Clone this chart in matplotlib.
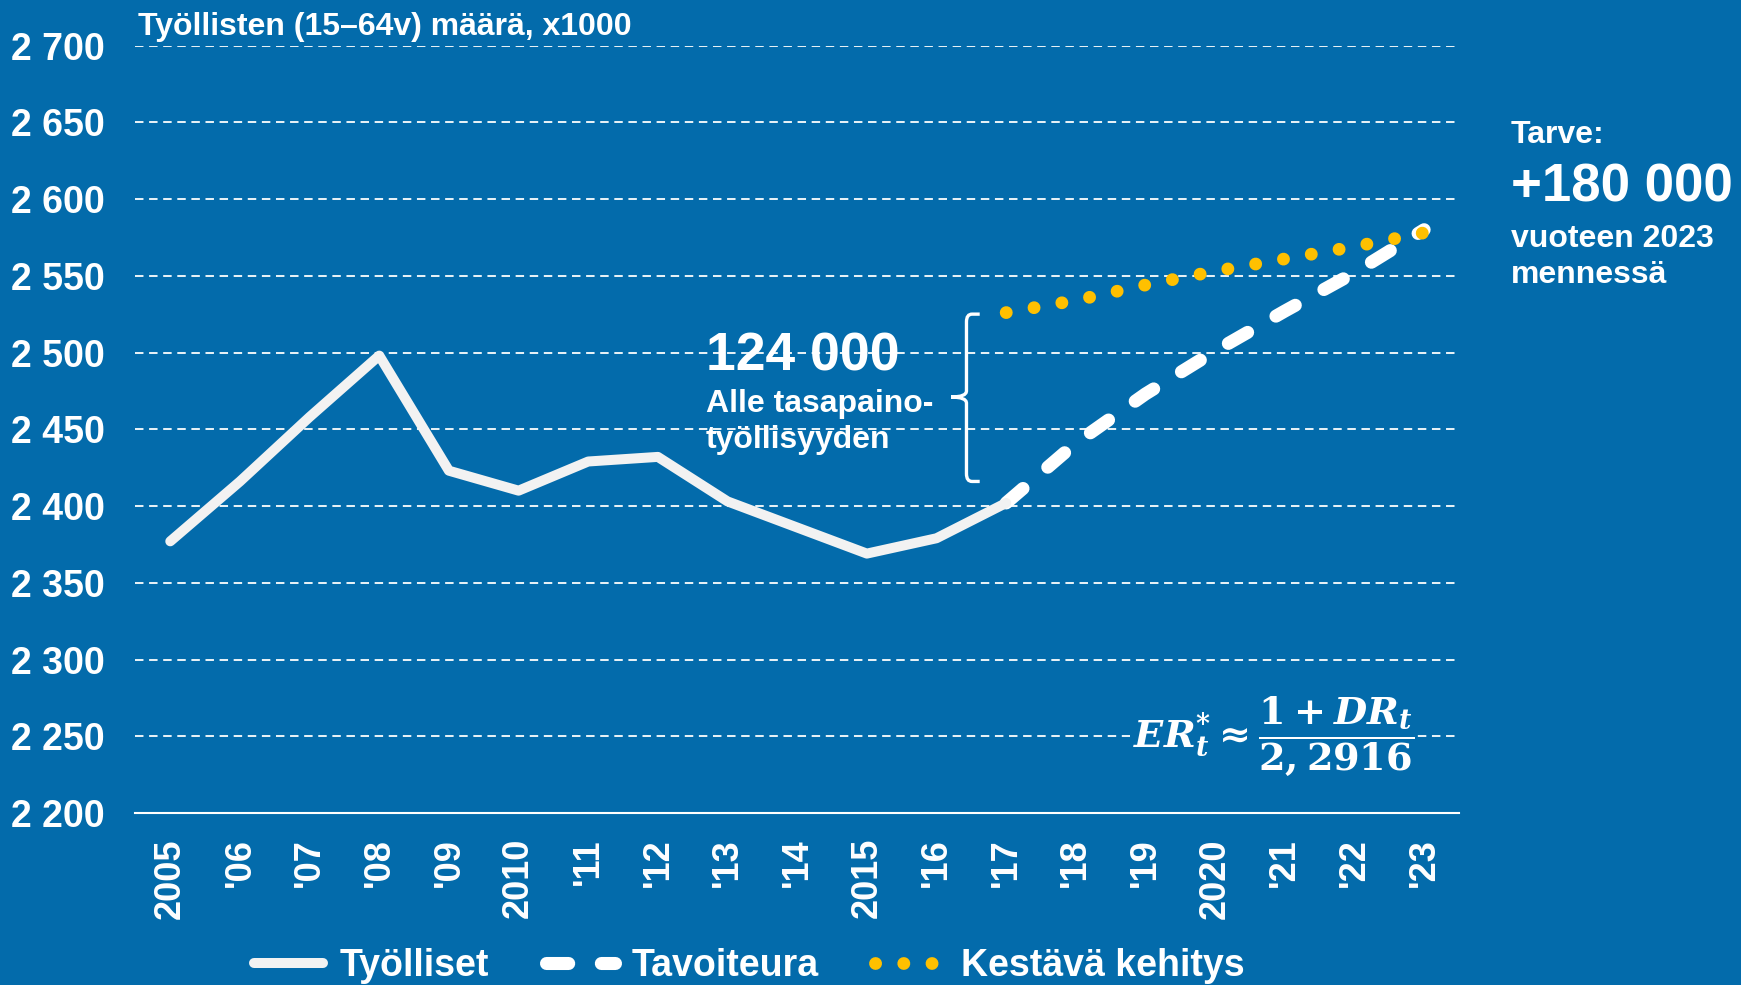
import matplotlib
matplotlib.use('Agg')
import matplotlib.pyplot as plt
from matplotlib.path import Path
from matplotlib.patches import PathPatch

# --- data (x1000 henkeä) ---
vuodet = list(range(2005, 2018))
tyolliset = [2377, 2416, 2458, 2498, 2423, 2410, 2429, 2432, 2403, 2386, 2369, 2379, 2402]

tavoite_vuodet = list(range(2017, 2024))
tavoite = [2402, 2441, 2473, 2501, 2527, 2552, 2580]

kest_vuodet = list(range(2017, 2024))
kestava = [2526, 2534, 2544, 2553, 2561, 2569, 2578]

x_ticks = list(range(2005, 2024))
x_labels = ['2005', "'06", "'07", "'08", "'09", '2010', "'11", "'12", "'13", "'14",
            '2015', "'16", "'17", "'18", "'19", '2020', "'21", "'22", "'23"]
y_ticks = list(range(2200, 2701, 50))

tausta = '#036BAB'
valk = 'white'

plt.rcParams.update({'font.family': ['Liberation Sans', 'DejaVu Sans'],
                     'font.weight': 'bold'})

fig = plt.figure(figsize=(17.41, 9.85), dpi=100, facecolor=tausta)
ax = fig.add_axes([0.0778, 0.1746, 0.7602, 0.7792], facecolor=tausta)

ax.plot(vuodet, tyolliset, color='#F2F2F2', lw=7.2, solid_capstyle='round',
        solid_joinstyle='round', label='Työlliset', zorder=4)
ax.plot(tavoite_vuodet, tavoite, color=valk, lw=9.4, ls=(0, (1.7, 2.5)),
        dash_capstyle='round', label='Tavoiteura', zorder=3)
ax.plot(kest_vuodet, kestava, color='#FFC000', lw=9.2, ls=(0, (0.01, 2.2)),
        dash_capstyle='round', label='Kestävä kehitys', zorder=3)

ax.set_xlim(2004.5, 2023.5)
ax.set_ylim(2200, 2700)
ax.set_axisbelow(True)
ax.yaxis.grid(True, color=valk, alpha=0.9, lw=1.45, ls=(0, (4.2, 2.8)))

for s in ('left', 'top', 'right'):
    ax.spines[s].set_visible(False)
ax.spines['bottom'].set_color(valk)
ax.spines['bottom'].set_linewidth(1.5)

ax.set_xticks(x_ticks)
ax.set_xticklabels(x_labels, rotation=90, fontsize=26, color=valk, fontweight='bold')
ax.set_yticks(y_ticks)
ax.set_yticklabels([f'{v:,}'.replace(',', ' ') for v in y_ticks], fontsize=27,
                   color=valk, fontweight='bold')
ax.tick_params(axis='x', length=0, pad=18)
ax.tick_params(axis='y', length=0, pad=22)

# sulkumerkki
x0, xt, xn = 2016.43, 2016.62, 2016.21
yy, ya, yk = 2525, 2416, 2471
r = 0.08
verts = [(xt, yy), (x0 + r, yy), (x0, yy), (x0, yy - 5),
         (x0, yk + 4), (x0, yk), (xn, yk),
         (xn, yk), (x0, yk), (x0, yk - 4),
         (x0, ya + 5), (x0, ya), (x0 + r, ya), (xt, ya)]
codes = [Path.MOVETO, Path.LINETO, Path.CURVE3, Path.CURVE3,
         Path.LINETO, Path.CURVE3, Path.CURVE3,
         Path.MOVETO, Path.CURVE3, Path.CURVE3,
         Path.LINETO, Path.CURVE3, Path.CURVE3, Path.LINETO]
ax.add_patch(PathPatch(Path(verts, codes), fc='none', ec=valk, lw=2.4, zorder=5))

ax.text(2012.69, 2488.5, '124 000', fontsize=38.5, color=valk, fontweight='bold', va='baseline')
ax.text(2012.69, 2461, 'Alle tasapaino-', fontsize=23, color=valk, fontweight='bold', va='baseline')
ax.text(2012.69, 2437.5, 'työllisyyden', fontsize=23, color=valk, fontweight='bold', va='baseline')

ax.text(2020.84, 2250,
        r'$\mathbfit{ER}_{\mathbfit{t}}^{*} \approx \dfrac{\mathbf{1}+\mathbfit{DR}_{\mathbfit{t}}}{\mathbf{2,2916}}$',
        fontsize=27.5, math_fontfamily='dejavuserif', ha='center', va='center', color=valk,
        bbox=dict(fc=tausta, ec='none', pad=2), zorder=6)

W, H = 1741, 985
def px(x, y):
    return x / W, 1 - y / H

fig.text(*px(138, 35), 'Työllisten (15–64v) määrä, x1000', fontsize=23, color=valk,
         fontweight='bold', va='baseline')
fig.text(*px(1511, 143), 'Tarve:', fontsize=23, color=valk, fontweight='bold', va='baseline')
fig.text(*px(1511, 202), '+180 000', fontsize=38, color=valk, fontweight='bold', va='baseline')
fig.text(*px(1511, 247), 'vuoteen 2023', fontsize=23, color=valk, fontweight='bold', va='baseline')
fig.text(*px(1511, 283), 'mennessä', fontsize=23, color=valk, fontweight='bold', va='baseline')

fig.legend(loc='center left', bbox_to_anchor=px(254, 966), ncol=3, frameon=False,
           borderaxespad=0, borderpad=0, handlelength=1.84, handletextpad=0.45,
           columnspacing=1.5, labelcolor=valk, prop={'size': 27, 'weight': 'bold'})

fig.savefig('out.png', dpi=100, facecolor=tausta)
